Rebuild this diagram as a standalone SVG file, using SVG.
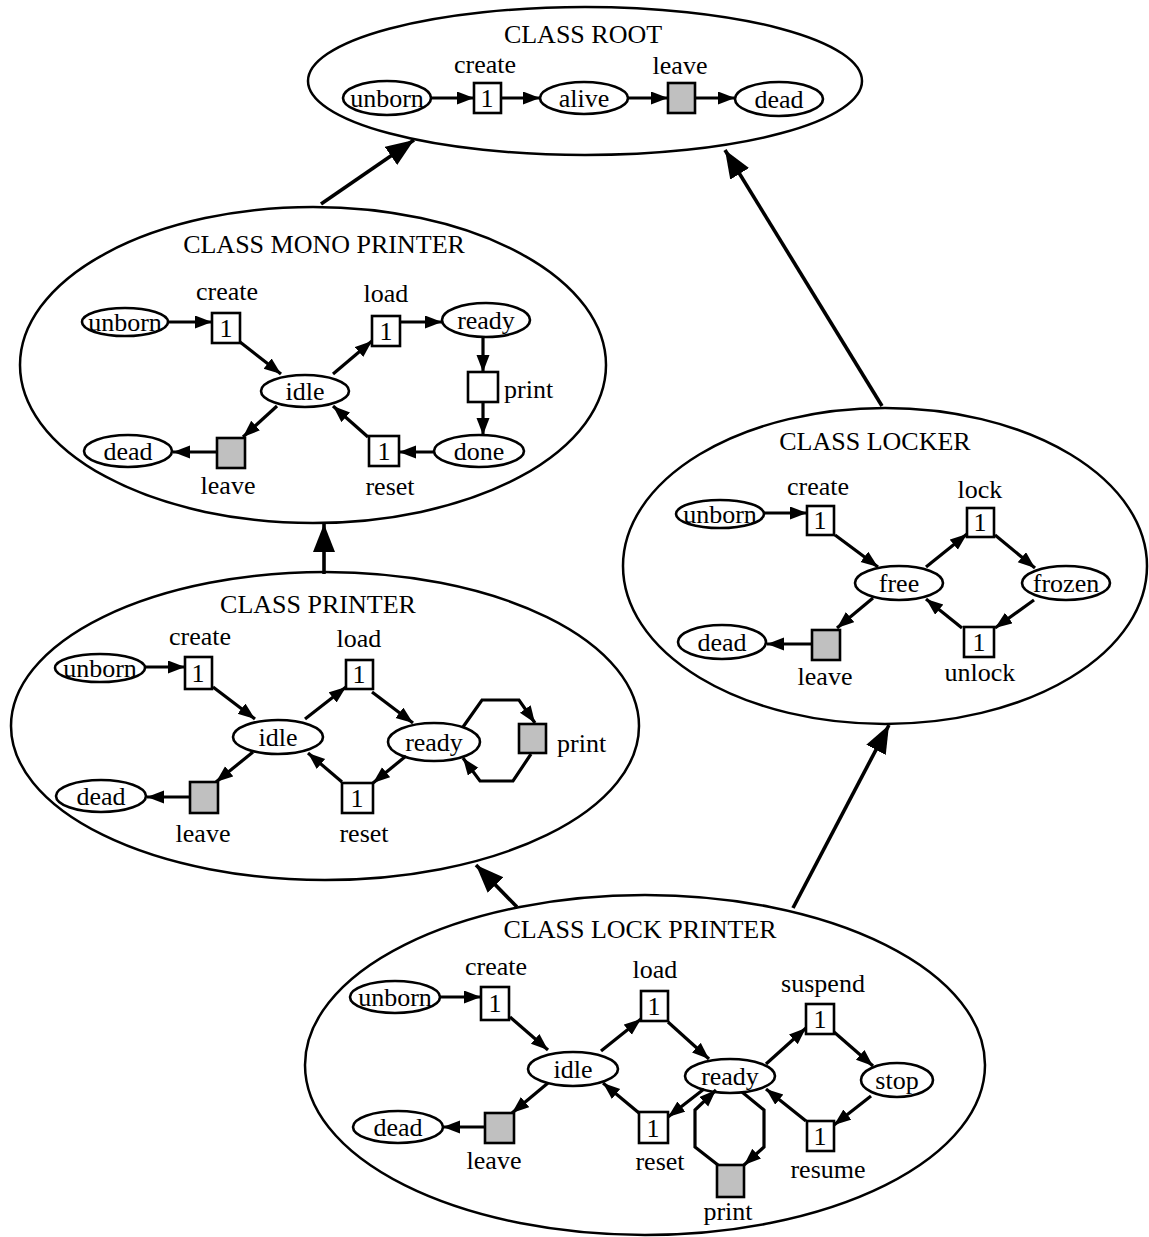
<svg xmlns="http://www.w3.org/2000/svg" width="1149" height="1237" viewBox="0 0 1149 1237">
<style>
text{font-family:"Liberation Serif","Times New Roman",serif;font-size:26px;text-anchor:middle;fill:#000}
.lbl{text-anchor:start}
.cls{fill:none;stroke:#000;stroke-width:2.5}
.st{fill:#fff;stroke:#000;stroke-width:2.6}
.tr{fill:#fff;stroke:#000;stroke-width:2.6}
.tg{fill:#c0c0c0;stroke:#000;stroke-width:2.6}
.e{fill:none;stroke:#000;stroke-width:3.2;marker-end:url(#a)}
.E{fill:none;stroke:#000;stroke-width:3.6;marker-end:url(#A)}
</style>
<defs>
<marker id="a" markerUnits="userSpaceOnUse" markerWidth="18" markerHeight="14" refX="17" refY="6.5" orient="auto"><path d="M0,0 L17,6.5 L0,13 z" fill="#000"/></marker>
<marker id="A" markerUnits="userSpaceOnUse" markerWidth="30" markerHeight="24" refX="28" refY="11" orient="auto"><path d="M0,0 L28,11 L0,22 z" fill="#000"/></marker>
</defs>
<rect width="1149" height="1237" fill="#fff"/>

<!-- CLASS ROOT -->
<g id="root"><ellipse class="cls" cx="585" cy="81" rx="277" ry="74"/><text x="583" y="43">CLASS ROOT</text></g>
<g id="root-unborn"><ellipse class="st" cx="387" cy="98" rx="44" ry="17"/><text x="387" y="107">unborn</text></g>
<g id="root-create"><rect class="tr" x="474" y="83" width="27" height="30"/><text x="487" y="107">1</text><text x="485" y="73">create</text></g>
<g id="root-alive"><ellipse class="st" cx="584" cy="98" rx="44" ry="16"/><text x="584" y="107">alive</text></g>
<g id="root-leave"><rect class="tg" x="668" y="83" width="27" height="30"/><text x="680" y="74">leave</text></g>
<g id="root-dead"><ellipse class="st" cx="779" cy="99" rx="44" ry="17"/><text x="779" y="108">dead</text></g>

<!-- CLASS MONO PRINTER -->
<g id="mono"><ellipse class="cls" cx="313" cy="365" rx="293" ry="158"/><text x="324" y="253">CLASS MONO PRINTER</text></g>
<g id="mono-unborn"><ellipse class="st" cx="125" cy="322" rx="43" ry="14"/><text x="125" y="331">unborn</text></g>
<g id="mono-create"><rect class="tr" x="212" y="313" width="28" height="30"/><text x="226" y="337">1</text><text x="227" y="300">create</text></g>
<g id="mono-idle"><ellipse class="st" cx="305" cy="391" rx="44" ry="16"/><text x="305" y="400">idle</text></g>
<g id="mono-load"><rect class="tr" x="372" y="316" width="28" height="30"/><text x="386" y="340">1</text><text x="386" y="302">load</text></g>
<g id="mono-ready"><ellipse class="st" cx="486" cy="320" rx="44" ry="17"/><text x="486" y="329">ready</text></g>
<g id="mono-print"><rect class="tr" x="468" y="372" width="30" height="30"/><text class="lbl" x="504" y="398">print</text></g>
<g id="mono-done"><ellipse class="st" cx="479" cy="451" rx="45" ry="16"/><text x="479" y="460">done</text></g>
<g id="mono-reset"><rect class="tr" x="369" y="436" width="30" height="30"/><text x="384" y="460">1</text><text x="390" y="495">reset</text></g>
<g id="mono-leave"><rect class="tg" x="217" y="438" width="28" height="30"/><text x="228" y="494">leave</text></g>
<g id="mono-dead"><ellipse class="st" cx="128" cy="451" rx="44" ry="16"/><text x="128" y="460">dead</text></g>

<!-- CLASS LOCKER -->
<g id="locker"><ellipse class="cls" cx="885" cy="566" rx="262" ry="158"/><text x="875" y="450">CLASS LOCKER</text></g>
<g id="locker-unborn"><ellipse class="st" cx="720" cy="514" rx="44" ry="14"/><text x="720" y="523">unborn</text></g>
<g id="locker-create"><rect class="tr" x="807" y="506" width="27" height="29"/><text x="820" y="529">1</text><text x="818" y="495">create</text></g>
<g id="locker-free"><ellipse class="st" cx="899" cy="583" rx="44" ry="17"/><text x="899" y="592">free</text></g>
<g id="locker-lock"><rect class="tr" x="967" y="508" width="27" height="29"/><text x="980" y="531">1</text><text x="980" y="498">lock</text></g>
<g id="locker-frozen"><ellipse class="st" cx="1066" cy="583" rx="44" ry="17"/><text x="1066" y="592">frozen</text></g>
<g id="locker-unlock"><rect class="tr" x="964" y="627" width="30" height="30"/><text x="979" y="651">1</text><text x="980" y="681">unlock</text></g>
<g id="locker-leave"><rect class="tg" x="812" y="630" width="28" height="30"/><text x="825" y="685">leave</text></g>
<g id="locker-dead"><ellipse class="st" cx="722" cy="642" rx="44" ry="17"/><text x="722" y="651">dead</text></g>

<!-- CLASS PRINTER -->
<g id="printer"><ellipse class="cls" cx="325" cy="726" rx="314" ry="154"/><text x="318" y="613">CLASS PRINTER</text></g>
<g id="printer-unborn"><ellipse class="st" cx="100" cy="668" rx="45" ry="14"/><text x="100" y="677">unborn</text></g>
<g id="printer-create"><rect class="tr" x="185" y="657" width="27" height="32"/><text x="198" y="682">1</text><text x="200" y="645">create</text></g>
<g id="printer-idle"><ellipse class="st" cx="278" cy="737" rx="45" ry="17"/><text x="278" y="746">idle</text></g>
<g id="printer-load"><rect class="tr" x="346" y="660" width="27" height="29"/><text x="359" y="683">1</text><text x="359" y="647">load</text></g>
<g id="printer-ready"><ellipse class="st" cx="434" cy="742" rx="46" ry="19"/><text x="434" y="751">ready</text></g>
<g id="printer-print"><rect class="tg" x="519" y="724" width="27" height="29"/><text class="lbl" x="557" y="752">print</text></g>
<g id="printer-reset"><rect class="tr" x="342" y="783" width="31" height="30"/><text x="357" y="807">1</text><text x="364" y="842">reset</text></g>
<g id="printer-leave"><rect class="tg" x="190" y="782" width="28" height="31"/><text x="203" y="842">leave</text></g>
<g id="printer-dead"><ellipse class="st" cx="101" cy="796" rx="45" ry="16"/><text x="101" y="805">dead</text></g>

<!-- CLASS LOCK PRINTER -->
<g id="lockprinter"><ellipse class="cls" cx="645" cy="1065" rx="340" ry="170"/><text x="640" y="938">CLASS LOCK PRINTER</text></g>
<g id="lp-unborn"><ellipse class="st" cx="395" cy="997" rx="45" ry="16"/><text x="395" y="1006">unborn</text></g>
<g id="lp-create"><rect class="tr" x="481" y="987" width="28" height="33"/><text x="495" y="1012">1</text><text x="496" y="975">create</text></g>
<g id="lp-idle"><ellipse class="st" cx="573" cy="1069" rx="45" ry="17"/><text x="573" y="1078">idle</text></g>
<g id="lp-load"><rect class="tr" x="641" y="991" width="27" height="30"/><text x="654" y="1015">1</text><text x="655" y="978">load</text></g>
<g id="lp-ready"><ellipse class="st" cx="730" cy="1076" rx="45" ry="17"/><text x="730" y="1085">ready</text></g>
<g id="lp-suspend"><rect class="tr" x="806" y="1004" width="28" height="30"/><text x="820" y="1028">1</text><text x="823" y="992">suspend</text></g>
<g id="lp-stop"><ellipse class="st" cx="897" cy="1080" rx="36" ry="17"/><text x="897" y="1089">stop</text></g>
<g id="lp-resume"><rect class="tr" x="807" y="1121" width="27" height="30"/><text x="820" y="1145">1</text><text x="828" y="1178">resume</text></g>
<g id="lp-reset"><rect class="tr" x="639" y="1112" width="29" height="31"/><text x="653" y="1137">1</text><text x="660" y="1170">reset</text></g>
<g id="lp-leave"><rect class="tg" x="485" y="1113" width="29" height="30"/><text x="494" y="1169">leave</text></g>
<g id="lp-dead"><ellipse class="st" cx="398" cy="1127" rx="45" ry="16"/><text x="398" y="1136">dead</text></g>
<g id="lp-print"><rect class="tg" x="717" y="1165" width="27" height="32"/><text x="728" y="1220">print</text></g>

<!-- connectors -->
<g id="connectors">
<path class="E" d="M321,204 L414,140"/>
<path class="E" d="M882,406 L725,150"/>
<path class="E" d="M324,574 L324,524"/>
<path class="E" d="M517,907 L476,865"/>
<path class="E" d="M793,908 L889,725"/>

<path class="e" d="M431,98 L474,98"/>
<path class="e" d="M501,98 L540,98"/>
<path class="e" d="M628,98 L668,98"/>
<path class="e" d="M695,98 L735,98"/>

<path class="e" d="M168,322 L212,322"/>
<path class="e" d="M240,342 L281,374"/>
<path class="e" d="M333,374 L372,341"/>
<path class="e" d="M400,322 L442,322"/>
<path class="e" d="M483,337 L483,372"/>
<path class="e" d="M483,402 L483,435"/>
<path class="e" d="M434,452 L399,452"/>
<path class="e" d="M368,437 L333,406"/>
<path class="e" d="M277,406 L243,437"/>
<path class="e" d="M216,452 L173,452"/>

<path class="e" d="M764,513 L807,513"/>
<path class="e" d="M835,535 L878,567"/>
<path class="e" d="M926,567 L967,534"/>
<path class="e" d="M995,535 L1035,568"/>
<path class="e" d="M1034,600 L995,628"/>
<path class="e" d="M962,628 L926,599"/>
<path class="e" d="M873,598 L837,628"/>
<path class="e" d="M811,644 L767,644"/>

<path class="e" d="M145,667 L185,667"/>
<path class="e" d="M213,687 L255,719"/>
<path class="e" d="M305,719 L346,687"/>
<path class="e" d="M372,692 L413,723"/>
<path class="e" d="M406,756 L373,783"/>
<path class="e" d="M342,782 L308,753"/>
<path class="e" d="M253,752 L216,782"/>
<path class="e" d="M189,797 L147,797"/>
<path class="e" d="M463,727 L482,700 L519,700 L535,723"/>
<path class="e" d="M531,754 L513,781 L480,781 L463,758"/>

<path class="e" d="M439,997 L481,997"/>
<path class="e" d="M510,1017 L548,1050"/>
<path class="e" d="M601,1051 L641,1019"/>
<path class="e" d="M668,1022 L709,1059"/>
<path class="e" d="M766,1064 L806,1028"/>
<path class="e" d="M834,1032 L873,1066"/>
<path class="e" d="M871,1096 L834,1125"/>
<path class="e" d="M806,1121 L766,1089"/>
<path class="e" d="M704,1089 L668,1117"/>
<path class="e" d="M639,1113 L603,1083"/>
<path class="e" d="M548,1083 L512,1113"/>
<path class="e" d="M484,1127 L443,1127"/>
<path class="e" d="M718,1165 L695,1147 L695,1110 L716,1090"/>
<path class="e" d="M742,1092 L764,1110 L764,1147 L744,1165"/>
</g>
</svg>
